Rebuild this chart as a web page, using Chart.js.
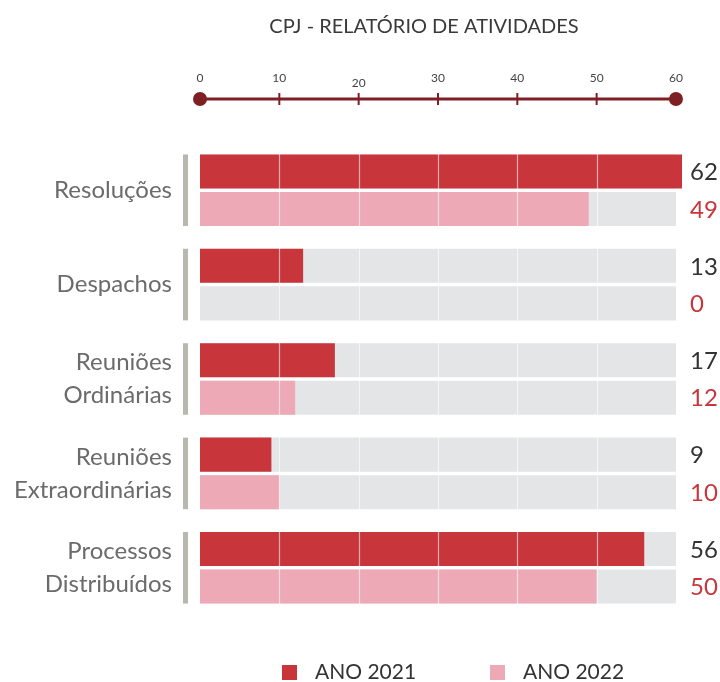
<!DOCTYPE html>
<html>
<head>
<meta charset="utf-8">
<script src="https://cdn.jsdelivr.net/npm/chart.js@4/dist/chart.umd.min.js"></script>
<style>
  html, body { margin: 0; padding: 0; background: #fff; }
  #wrap { width: 720px; height: 682px; }
</style>
</head>
<body>
<div id="wrap"><canvas id="chart" width="720" height="682"></canvas></div>
<script>
const categorias = [
  ['Resoluções'],
  ['Despachos'],
  ['Reuniões', 'Ordinárias'],
  ['Reuniões', 'Extraordinárias'],
  ['Processos', 'Distribuídos']
]
const ano2021 = [62, 13, 17, 9, 56]
const ano2022 = [49, 0, 12, 10, 50]
const fundo = [60, 60, 60, 60, 60]
const escala = [0, 10, 20, 30, 40, 50, 60]
const titulo = 'CPJ - RELATÓRIO DE ATIVIDADES'

const VERMELHO = '#c8353b'
const ROSA = '#eea9b6'
const CINZA = '#e3e5e7'
const BORDO = '#7e1f24'
const FONTE = 'Lato, "Open Sans", sans-serif'

const extras = {
  id: 'extras',
  afterDatasetsDraw(chart) {
    const ctx = chart.ctx
    const x = chart.scales.x
    const area = chart.chartArea
    const m21 = chart.getDatasetMeta(0)
    const m22 = chart.getDatasetMeta(2)

    // linhas divisórias sobre as barras
    ctx.save()
    ctx.strokeStyle = 'rgba(255,255,255,0.6)'
    ctx.lineWidth = 1.2
    escala.slice(1, -1).forEach(v => {
      const px = Math.round(x.getPixelForValue(v)) + 0.5
      ctx.beginPath()
      ctx.moveTo(px, area.top)
      ctx.lineTo(px, area.bottom)
      ctx.stroke()
    })

    // barra cinza à esquerda de cada grupo + valores
    ctx.font = '24px ' + FONTE
    ctx.textBaseline = 'middle'
    ctx.textAlign = 'left'
    categorias.forEach((c, i) => {
      const a = m21.data[i], b = m22.data[i]
      const top = a.y - a.height / 2
      const bot = b.y + b.height / 2
      ctx.fillStyle = '#b8b8ae'
      ctx.fillRect(x.left - 17, top, 5, bot - top)
      ctx.fillStyle = '#333'
      ctx.fillText(String(ano2021[i]), area.right + 8, a.y + 1)
      ctx.fillStyle = VERMELHO
      ctx.fillText(String(ano2022[i]), area.right + 8, b.y + 1)
    })

    // eixo superior
    const yEixo = 99
    const x0 = x.getPixelForValue(escala[0])
    const x1 = x.getPixelForValue(escala[escala.length - 1])
    ctx.strokeStyle = BORDO
    ctx.lineWidth = 3
    ctx.beginPath()
    ctx.moveTo(x0, yEixo)
    ctx.lineTo(x1, yEixo)
    ctx.stroke()
    ctx.lineWidth = 2
    escala.slice(1, -1).forEach(v => {
      const px = x.getPixelForValue(v)
      ctx.beginPath()
      ctx.moveTo(px, yEixo - 6)
      ctx.lineTo(px, yEixo + 6)
      ctx.stroke()
    })
    ctx.fillStyle = BORDO
    ;[x0, x1].forEach(px => {
      ctx.beginPath()
      ctx.arc(px, yEixo, 7, 0, Math.PI * 2)
      ctx.fill()
    })
    ctx.fillStyle = '#444'
    ctx.font = '12px ' + FONTE
    ctx.textAlign = 'center'
    ctx.textBaseline = 'alphabetic'
    escala.forEach(v => {
      const px = x.getPixelForValue(v)
      ctx.fillText(String(v), px, v === 20 ? 87 : 82)
    })

    // título
    ctx.fillStyle = '#3a3a3a'
    ctx.font = '20px ' + FONTE
    ctx.fillText(titulo, 424, 33)

    // legenda
    const itens = [
      { cor: VERMELHO, txt: chart.data.datasets[0].label, bx: 282, tx: 315 },
      { cor: ROSA, txt: chart.data.datasets[2].label, bx: 490, tx: 523 }
    ]
    ctx.font = '21px ' + FONTE
    ctx.textAlign = 'left'
    ctx.textBaseline = 'middle'
    itens.forEach(it => {
      ctx.fillStyle = it.cor
      ctx.fillRect(it.bx, 665, 15, 15)
      ctx.fillStyle = '#333'
      ctx.fillText(it.txt, it.tx, 672)
    })
    ctx.restore()
  }
}

new Chart(document.getElementById('chart'), {
  type: 'bar',
  data: {
    labels: categorias,
    datasets: [
      { label: 'ANO 2021', data: ano2021, backgroundColor: VERMELHO, stack: 'a', order: 1 },
      { label: 'fundo 2021', data: fundo, backgroundColor: CINZA, stack: 'a', order: 2 },
      { label: 'ANO 2022', data: ano2022, backgroundColor: ROSA, stack: 'b', order: 1 },
      { label: 'fundo 2022', data: fundo, backgroundColor: CINZA, stack: 'b', order: 2 }
    ]
  },
  options: {
    indexAxis: 'y',
    responsive: false,
    animation: false,
    events: [],
    categoryPercentage: 0.795,
    barPercentage: 0.907,
    layout: { padding: { top: 143, bottom: 67, left: 0, right: 38 } },
    scales: {
      x: {
        display: false,
        stacked: false,
        min: 0,
        max: 60.76
      },
      y: {
        grid: { display: false, drawTicks: false },
        border: { display: false },
        ticks: {
          color: '#6b6b6b',
          padding: 28,
          font: { family: FONTE, size: 24, lineHeight: 1.38 }
        },
        afterFit(s) { s.width = 200 }
      }
    },
    plugins: {
      legend: { display: false },
      tooltip: { enabled: false }
    }
  },
  plugins: [extras]
})
</script>
</body>
</html>
